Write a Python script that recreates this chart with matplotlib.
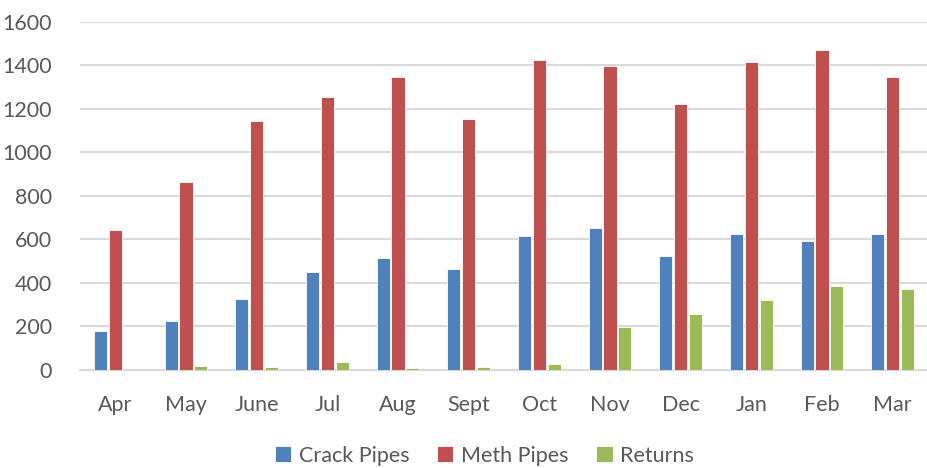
import matplotlib
matplotlib.use("Agg")
import matplotlib.pyplot as plt
import numpy as np

months = ["Apr", "May", "June", "Jul", "Aug", "Sept", "Oct", "Nov", "Dec", "Jan", "Feb", "Mar"]
crack = [179, 227, 328, 450, 516, 462, 616, 651, 522, 626, 593, 626]
meth = [645, 862, 1146, 1256, 1345, 1152, 1423, 1398, 1220, 1417, 1469, 1345]
returns = [0, 20, 14, 38, 8, 14, 26, 196, 256, 320, 386, 374]
series_names = ["Crack Pipes", "Meth Pipes", "Returns"]
colors = ["#4F81BD", "#C0504D", "#9BBB59"]

plt.rcParams['font.family'] = ['Lato', 'DejaVu Sans']

fig = plt.figure(figsize=(9.28, 4.68), dpi=100)
ax = fig.add_axes([80/928, 98/468, 848/928, (370-21.7)/468])

x = np.arange(len(months))
w = 0.185
off = 0.21
for i, (vals, name, c) in enumerate(zip([crack, meth, returns], series_names, colors)):
    ax.bar(x + (i - 1) * off, vals, width=w, color=c, edgecolor="white", linewidth=0.6, label=name, zorder=3)

ax.set_xlim(-0.5, len(months) - 0.5)
ax.set_ylim(0, 1600)
ax.set_yticks(range(0, 1601, 200))
ax.set_xticks(x)
ax.set_xticklabels(months)
ax.yaxis.grid(True, color="#D9D9D9", linewidth=1.5, zorder=0)
ax.set_axisbelow(True)
for s in ["top", "right", "left"]:
    ax.spines[s].set_visible(False)
ax.spines["bottom"].set_color("#D9D9D9")
ax.spines["bottom"].set_linewidth(1.5)
ax.tick_params(axis="both", length=0, labelsize=15.5, labelcolor="#595959")
ax.tick_params(axis="y", pad=20)
ax.tick_params(axis="x", pad=18)

handles, labels = ax.get_legend_handles_labels()
fig.legend(handles, labels, loc="center", bbox_to_anchor=(0.522, 0.026), ncol=3, frameon=False,
           fontsize=15.5, labelcolor="#595959", handlelength=0.75, handleheight=0.75, handletextpad=0.35,
           columnspacing=1.3)

fig.savefig("out.png", dpi=100)
